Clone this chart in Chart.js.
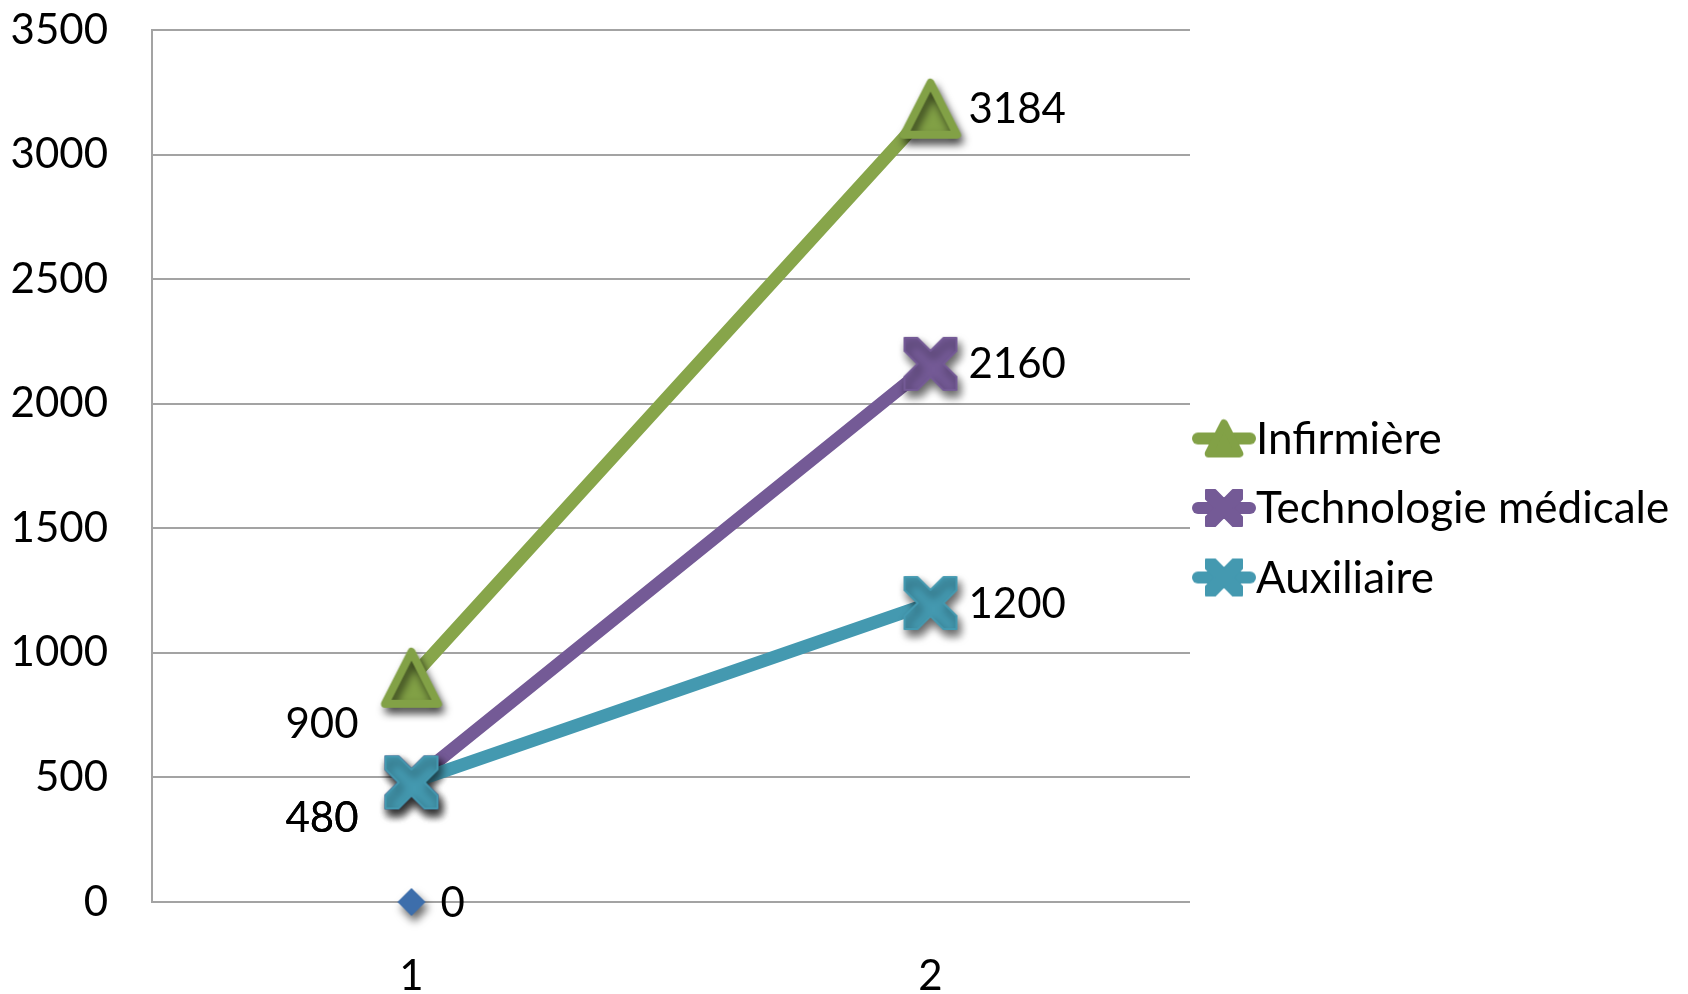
<!DOCTYPE html>
<html>
<head>
<meta charset="utf-8">
<script src="https://cdn.jsdelivr.net/npm/chart.js@4/dist/chart.umd.min.js"></script>
<style>
  html, body { margin: 0; padding: 0; background: #ffffff; }
  #c { display: block; }
</style>
</head>
<body>
<canvas id="c" width="1688" height="994"></canvas>
<script>
// ---- data ----
const categories = ['1', '2'];
const seriesNames = ['Infirmière', 'Technologie médicale', 'Auxiliaire'];
const infirmiere = [900, 3184];
const technologie = [480, 2160];
const auxiliaire = [480, 1200];
const baseSeries = [0, null];
const yMin = 0;
const yMax = 3500;
const yStep = 500;

// ---- styles ----
const FONT = 'Lato, "Open Sans", "DejaVu Sans", sans-serif';
const FS = 42;        // ticks and value labels
const FS_LEG = 44;    // legend
const GREEN = '#87a54a';
const GREEN_M = '#82a146';
const PURPLE = '#745a96';
const TEAL = '#4499b0';
const BLUE = '#3d6eab';
const GRID = '#a3a3a3';

function markerCanvas(kind, color, half, withShadow) {
  const pad = withShadow ? 22 : 4;
  const size = Math.ceil(half * 2 + pad * 2);
  const cv = document.createElement('canvas');
  cv.width = size; cv.height = size;
  const ctx = cv.getContext('2d');
  const cx = size / 2, cy = size / 2;
  if (withShadow) {
    ctx.shadowColor = 'rgba(0,0,0,0.6)';
    ctx.shadowBlur = 9;
    ctx.shadowOffsetX = 3;
    ctx.shadowOffsetY = 6;
  }
  ctx.fillStyle = color;
  ctx.strokeStyle = color;
  ctx.lineJoin = 'round';
  ctx.beginPath();
  if (kind === 'triangle') {
    const r = half - 4;
    ctx.moveTo(cx, cy - r);
    ctx.lineTo(cx + r * 1.02, cy + r);
    ctx.lineTo(cx - r * 1.02, cy + r);
    ctx.closePath();
    ctx.lineWidth = 8;
    ctx.fill();
    ctx.stroke();
  } else if (kind === 'x') {
    const s = half - 1, d = half * 0.48;
    const pts = [[-s,-s],[-s+d,-s],[0,-d],[s-d,-s],[s,-s],[s,-s+d],[d,0],[s,s-d],[s,s],[s-d,s],[0,d],[-s+d,s],[-s,s],[-s,s-d],[-d,0],[-s,-s+d]];
    pts.forEach((p, i) => i ? ctx.lineTo(cx + p[0], cy + p[1]) : ctx.moveTo(cx + p[0], cy + p[1]));
    ctx.closePath();
    ctx.lineWidth = 2;
    ctx.fill();
    ctx.stroke();
  } else if (kind === 'diamond') {
    ctx.moveTo(cx, cy - half);
    ctx.lineTo(cx + half, cy);
    ctx.lineTo(cx, cy + half);
    ctx.lineTo(cx - half, cy);
    ctx.closePath();
    ctx.fill();
  }
  return cv;
}

function legendSymbol(kind, color) {
  const w = 64, h = 44;
  const cv = document.createElement('canvas');
  cv.width = w; cv.height = h;
  const ctx = cv.getContext('2d');
  ctx.strokeStyle = color;
  ctx.lineWidth = 12;
  ctx.lineCap = 'round';
  ctx.beginPath();
  ctx.moveTo(6, h / 2);
  ctx.lineTo(w - 6, h / 2);
  ctx.stroke();
  const m = markerCanvas(kind, color, 19, false);
  ctx.drawImage(m, w / 2 - m.width / 2, h / 2 - m.height / 2);
  return cv;
}

// value labels: per point [dx, dy, textAlign]
const labelPlugin = {
  id: 'valueLabels',
  afterDatasetsDraw(chart) {
    const ctx = chart.ctx;
    ctx.save();
    ctx.font = FS + 'px ' + FONT;
    ctx.fillStyle = '#000';
    ctx.textBaseline = 'middle';
    chart.data.datasets.forEach((ds, di) => {
      const meta = chart.getDatasetMeta(di);
      if (!ds.valueLabelPlacement) return;
      ds.data.forEach((v, i) => {
        if (v === null || v === undefined) return;
        const pt = meta.data[i];
        const pl = ds.valueLabelPlacement[i];
        ctx.textAlign = pl[2];
        ctx.fillText(String(v), pt.x + pl[0], pt.y + pl[1]);
      });
    });
    ctx.restore();
  }
};

const legendPlugin = {
  id: 'sideLegend',
  afterDraw(chart) {
    const ctx = chart.ctx;
    const items = chart.data.datasets.filter(ds => ds.inLegend);
    ctx.save();
    ctx.font = FS_LEG + 'px ' + FONT;
    ctx.fillStyle = '#000';
    ctx.textBaseline = 'middle';
    ctx.textAlign = 'left';
    const x0 = chart.chartArea.right + 2;
    const yc = (chart.chartArea.top + chart.chartArea.bottom) / 2 + 42;
    const gap = 69.5;
    items.forEach((ds, k) => {
      const y = yc + (k - 1) * gap;
      const sym = ds.legendSymbol;
      ctx.drawImage(sym, x0, y - sym.height / 2);
      ctx.fillText(ds.label, x0 + sym.width, y + 1);
    });
    ctx.restore();
  }
};

const datasets = [
  {
    label: seriesNames[0],
    data: infirmiere,
    borderColor: GREEN,
    backgroundColor: GREEN,
    borderWidth: 13,
    pointStyle: markerCanvas('triangle', GREEN_M, 30, true),
    pointRadius: 10,
    pointHoverRadius: 10,
    order: 2,
    clip: false,
    inLegend: true,
    legendSymbol: legendSymbol('triangle', GREEN_M),
    valueLabelPlacement: [[-53, 47, 'right'], [38, 1, 'left']]
  },
  {
    label: seriesNames[1],
    data: technologie,
    borderColor: PURPLE,
    backgroundColor: PURPLE,
    borderWidth: 13,
    pointStyle: markerCanvas('x', PURPLE, 27, true),
    pointRadius: 10,
    pointHoverRadius: 10,
    order: 1,
    clip: false,
    inLegend: true,
    legendSymbol: legendSymbol('x', PURPLE),
    valueLabelPlacement: [[-53, 36, 'right'], [38, 1, 'left']]
  },
  {
    label: seriesNames[2],
    data: auxiliaire,
    borderColor: TEAL,
    backgroundColor: TEAL,
    borderWidth: 13,
    pointStyle: markerCanvas('x', TEAL, 27, true),
    pointRadius: 10,
    pointHoverRadius: 10,
    order: 0,
    clip: false,
    inLegend: true,
    legendSymbol: legendSymbol('x', TEAL),
    valueLabelPlacement: [[-53, 36, 'right'], [38, 1, 'left']]
  },
  {
    label: '',
    data: baseSeries,
    showLine: false,
    borderColor: BLUE,
    backgroundColor: BLUE,
    pointStyle: markerCanvas('diamond', BLUE, 14, true),
    pointRadius: 10,
    pointHoverRadius: 10,
    order: 3,
    clip: false,
    inLegend: false,
    valueLabelPlacement: [[29, 1, 'left'], [29, 1, 'left']]
  }
];

function build() {
  new Chart(document.getElementById('c'), {
    type: 'line',
    data: { labels: categories, datasets: datasets },
    options: {
      responsive: false,
      animation: false,
      devicePixelRatio: 1,
      events: [],
      layout: { padding: { left: 0, right: 498, top: 30, bottom: 0 } },
      plugins: { legend: { display: false }, tooltip: { enabled: false } },
      elements: { line: { tension: 0, borderCapStyle: 'round', borderJoinStyle: 'round' } },
      scales: {
        x: {
          offset: true,
          grid: { display: false, drawTicks: false },
          border: { display: false },
          ticks: { font: { family: FONT, size: FS }, color: '#000', padding: 49 },
          afterFit(s) { s.height = 92; }
        },
        y: {
          min: yMin, max: yMax,
          grid: { color: GRID, lineWidth: 2, drawTicks: true, tickLength: 44, tickColor: 'rgba(0,0,0,0)' },
          border: { display: true, color: GRID, width: 2 },
          ticks: {
            stepSize: yStep, font: { family: FONT, size: FS }, color: '#000', padding: 0,
            callback: (v) => String(v)
          },
          afterFit(s) { s.width = 152; }
        }
      }
    },
    plugins: [labelPlugin, legendPlugin]
  });
}
if (document.fonts && document.fonts.load) {
  document.fonts.load(FS + 'px Lato').then(build, build);
} else { build(); }
</script>
</body>
</html>
